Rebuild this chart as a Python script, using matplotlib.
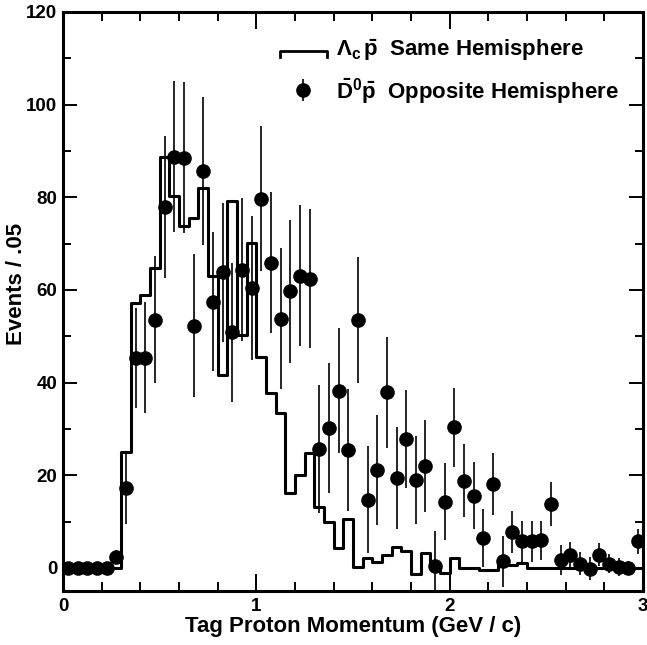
import matplotlib
matplotlib.use('Agg')
import matplotlib.pyplot as plt
import numpy as np
from matplotlib.legend_handler import HandlerBase
from matplotlib.lines import Line2D
from matplotlib.ticker import MultipleLocator

plt.rcParams['font.family'] = 'Liberation Sans'
plt.rcParams['font.weight'] = 'bold'
plt.rcParams['axes.labelweight'] = 'bold'
plt.rcParams['mathtext.fontset'] = 'custom'
plt.rcParams['mathtext.rm'] = 'Liberation Sans:bold'
plt.rcParams['mathtext.it'] = 'Liberation Sans:bold'
plt.rcParams['mathtext.bf'] = 'Liberation Sans:bold'

# momentum bins, 0.05 GeV/c wide
bin_width = 0.05
bin_edges = np.arange(0, 3.0 + bin_width / 2, bin_width)
bin_centers = bin_edges[:-1] + bin_width / 2

# Lambda_c pbar, same hemisphere (histogram)
same_hemi = [
    0, 0, 0, 0, 0, 0,
    25.0, 57.2, 59.0, 64.7, 88.8, 80.2, 73.7, 75.5, 82.0, 62.9,
    41.7, 79.1, 50.3, 70.1, 45.6, 37.7, 33.4, 16.1, 20.1, 24.8,
    13.2, 9.8, 4.3, 10.5, 0.2, 2.1, 1.3, 2.8, 4.4, 3.7,
    -1.3, 3.2, 0.0, -1.2, 2.2, 0.0, 0.0, -0.5, -0.5, 0.6,
    0.6, 1.0,
    0, 0, 0, 0, 0, 0, 0, 0, 0, 0, 0, 0,
]

# D0bar pbar, opposite hemisphere (points with errors)
opp_hemi = [
    0, 0, 0, 0, 0, 2.4, 17.2, 45.4, 45.4, 53.6,
    77.9, 88.8, 88.5, 52.3, 85.6, 57.5, 63.8, 50.9, 64.4, 60.4,
    79.7, 65.9, 53.8, 59.7, 63.1, 62.4, 25.6, 30.2, 38.2, 25.5,
    53.4, 14.7, 21.2, 37.9, 19.4, 27.8, 18.9, 22.0, 0.3, 14.3,
    30.3, 18.8, 15.6, 6.4, 18.1, 1.4, 7.7, 5.7, 5.7, 6.0,
    13.8, 1.7, 2.8, 0.9, -0.2, 2.8, 0.9, 0.2, 0.0, 5.7,
]
opp_err = [
    0, 0, 0, 0, 0, 1.5, 7.7, 10.8, 12.0, 13.7,
    15.3, 16.3, 16.3, 15.5, 16.0, 15.0, 15.0, 15.0, 15.5, 15.6,
    15.7, 15.3, 15.2, 15.4, 15.3, 15.0, 13.8, 14.0, 13.5, 13.2,
    13.6, 11.5, 11.9, 12.0, 11.0, 10.5, 9.5, 10.0, 7.7, 8.3,
    8.5, 7.9, 7.3, 6.3, 6.7, 5.5, 4.6, 4.5, 4.5, 4.2,
    4.8, 3.2, 2.8, 2.5, 2.5, 2.5, 2.0, 2.0, 1.5, 2.7,
]

label_same = r'$\Lambda_c\,\bar{p}$  Same Hemisphere'
label_opp = r'$\bar{D}^0\bar{p}$  Opposite Hemisphere'


class HandlerBracket(HandlerBase):
    # open-bottomed box outline used as the histogram key
    def create_artists(self, legend, orig_handle, xdescent, ydescent,
                       width, height, fontsize, trans):
        x0 = -xdescent
        x1 = width - xdescent
        ytop = height * 0.35 - ydescent
        ybot = -ydescent - height * 0.05
        line = Line2D([x0, x0, x1, x1], [ybot, ytop, ytop, ybot],
                      color='black', lw=2.0, transform=trans)
        return [line]


fig = plt.figure(figsize=(6.47, 6.45), dpi=100)
ax = fig.add_axes([0.0974, 0.0837, 0.8964, 0.8977])

hist_line, = ax.step(bin_edges, np.append(same_hemi, same_hemi[-1]),
                     where='post', color='black', lw=2.2)
pts = ax.errorbar(bin_centers, opp_hemi, yerr=opp_err, fmt='o', color='black',
                  ms=9.5, elinewidth=1.2, capsize=0)

ax.set_xlim(0, 3)
ax.set_ylim(-5, 120)
ax.xaxis.set_major_locator(MultipleLocator(1))
ax.xaxis.set_minor_locator(MultipleLocator(0.2))
ax.yaxis.set_major_locator(MultipleLocator(20))
ax.yaxis.set_minor_locator(MultipleLocator(10))
ax.tick_params(which='both', direction='in', top=True, right=True,
               width=1.4, labelsize=13.5)
ax.tick_params(axis='x', which='major', length=12, pad=5)
ax.tick_params(axis='x', which='minor', length=6.5)
ax.tick_params(axis='y', which='major', length=10, pad=4)
ax.tick_params(axis='y', which='minor', length=6)
for sp in ax.spines.values():
    sp.set_linewidth(2.2)

ax.set_xlabel('Tag Proton Momentum (GeV / c)', fontsize=16, labelpad=1)
ax.set_ylabel('Events / .05', fontsize=16)
ax.yaxis.set_label_coords(-0.062, 0.53)

ax.legend([hist_line, pts], [label_same, label_opp],
          handler_map={hist_line: HandlerBracket()},
          loc='upper left', bbox_to_anchor=(0.355, 0.975), borderpad=0,
          frameon=False, fontsize=16, handlelength=2.1, handletextpad=0.4,
          labelspacing=0.55)

fig.savefig('out.png', dpi=100)
